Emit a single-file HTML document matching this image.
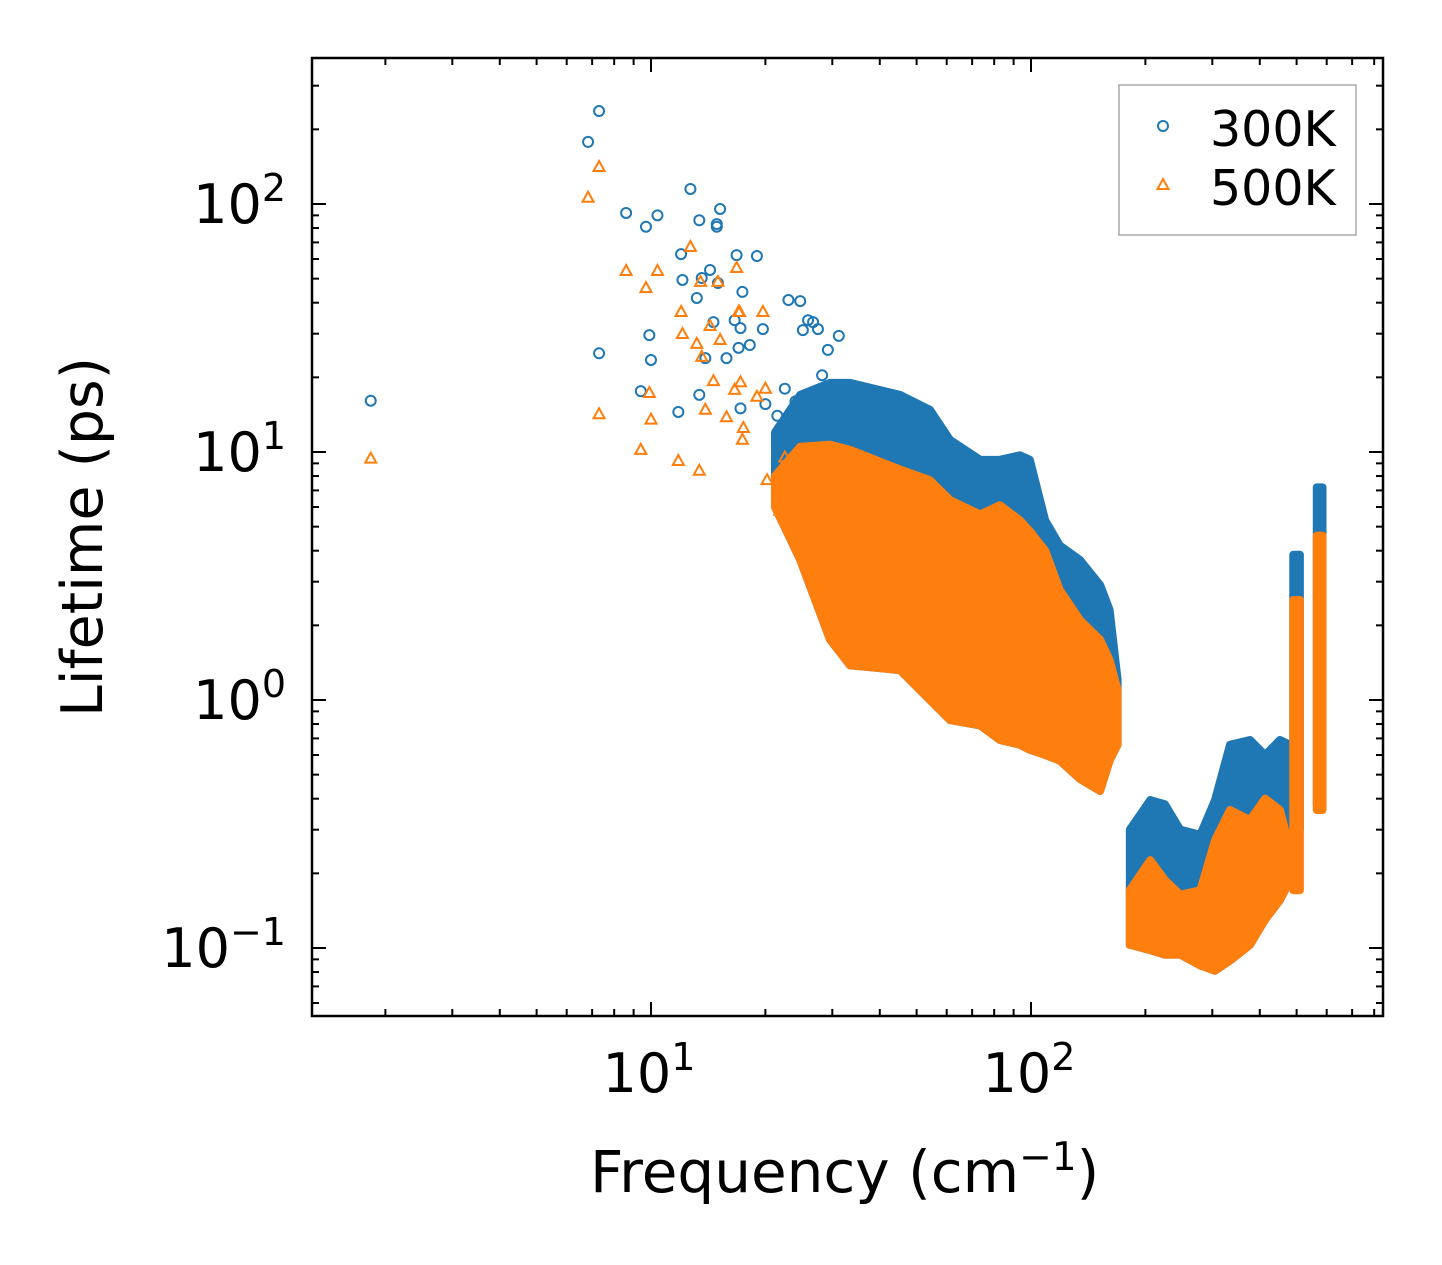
<!DOCTYPE html>
<html><head><meta charset="utf-8">
<style>
html,body{margin:0;padding:0;background:#fff;}
svg{display:block;font-family:"DejaVu Sans","Liberation Sans",sans-serif;}
</style></head>
<body>
<svg id="chart" width="1442" height="1265" viewBox="0 0 1442 1265" xmlns="http://www.w3.org/2000/svg">
<rect x="0" y="0" width="1442" height="1265" fill="#fff"/>
<g id="marks"></g>
<g id="axes"></g>
</svg>
<script>
// ---------- data ----------
const xTickVals = [10, 100];
const xTickLabels = ["10", "10"];
const xTickExps = ["1", "2"];
const yTickVals = [100, 10, 1, 0.1];
const yTickExps = ["2", "1", "0", "\u22121"];

// sparse points (frequency cm^-1, lifetime ps)
const blueFreq = [1.83,6.83,7.3,7.3,8.6,9.7,9.9,10.0,10.4,9.4,12.0,12.1,12.7,13.2,13.4,13.6,14.9,14.9,13.9,14.3,14.6,15.0,15.2,16.8,17.2,16.6,17.0,18.2,19.0,19.7,20.0,11.8,13.4,15.8,17.2,17.4,23.0,24.7,25.1,25.9,26.7,27.5,31.2,28.2,29.2,22.5,24,21.5];
const blueLife = [16.1,178,237,25,92,81,29.6,23.5,90,17.6,62.8,49.4,115,41.8,86,50.3,83,81,23.9,54.2,33.4,48,95.5,62.2,31.6,34,26.3,27,61.7,31.3,15.6,14.5,17,23.9,15,44.2,41,40.6,31,34,33.4,31.3,29.4,20.4,25.8,18,16,14];
const orangeFreq = [1.83,6.83,7.3,7.3,8.6,9.7,9.9,10.0,10.4,9.4,12.0,12.1,12.7,13.2,13.5,13.6,15.0,13.9,14.3,14.6,15.2,16.8,17.1,16.6,11.8,13.4,15.8,17.2,17.4,17.0,20.0,19.0,19.7,17.5,20.2,21.8,23.2,22.5,24.5];
const orangeLife = [9.4,106,141,14.2,53.7,45.8,17.3,13.5,53.7,10.2,36.7,29.9,67.1,27.3,48.5,24.2,48.5,14.8,32.2,19.3,28.3,55.2,36.7,17.8,9.2,8.4,13.8,19.1,11.2,36.7,18,16.7,36.7,12.5,7.7,5.8,6.4,9.5,8];

// dense cluster 1 envelopes
const band1Freq = [21.2,24.7,29.6,33.4,45.2,54.2,61.2,73.5,82.8,93.5,99.3,109,119,134.6,152,161,169];
const blue1Hi   = [12,17,19,19,17,14.8,11.2,9.3,9.3,9.7,9.3,5.3,4.2,3.67,2.91,2.31,1.21];
const orange1Hi = [8,10.5,10.7,10.2,8.5,7.7,6.4,5.6,6.1,5.3,4.8,4.0,2.78,2.1,1.75,1.45,1.1];
const orange1Lo = [6,3.67,1.75,1.38,1.32,1.0,0.83,0.79,0.69,0.66,0.63,0.60,0.57,0.48,0.43,0.57,0.66];
// dense cluster 2 envelopes
const band2Freq = [182,206,225,247,279,305,334,377,413,452,481];
const blue2Hi   = [0.30,0.395,0.38,0.30,0.286,0.395,0.66,0.69,0.60,0.69,0.66];
const orange2Hi = [0.171,0.226,0.188,0.164,0.171,0.272,0.36,0.328,0.40,0.36,0.248];
const orange2Lo = [0.103,0.098,0.094,0.094,0.085,0.081,0.089,0.103,0.13,0.156,0.188];
// spikes
const spikeFreqLo = [490, 565];
const spikeFreqHi = [510, 585];
const spikeBlueHi = [3.85, 7.2];
const spikeBlueLo = [0.30, 0.38];
const spikeOrangeHi = [2.53, 4.6];
const spikeOrangeLo = [0.171, 0.36];

// ---------- scales ----------
const L=312,R=1383,T=58,B=1016;
function xs(f){return 651+380*(Math.log10(f)-1);}
function ys(v){return 452-248*(Math.log10(v)-1);}
const NS="http://www.w3.org/2000/svg";
function mk(tag,attrs,parent){const e=document.createElementNS(NS,tag);for(const k in attrs)e.setAttribute(k,attrs[k]);parent.appendChild(e);return e;}
const marks=document.getElementById('marks');
const axes=document.getElementById('axes');
const BLUE="#1f77b4",OR="#ff7f0e";

function band(freq,hi,lo,color,name){
  let pts=[];
  for(let i=0;i<freq.length;i++)pts.push(xs(freq[i])+","+ys(hi[i]));
  for(let i=freq.length-1;i>=0;i--)pts.push(xs(freq[i])+","+ys(lo[i]));
  const p=mk('polygon',{points:pts.join(" "),fill:color,stroke:color,'stroke-width':8,'stroke-linejoin':'round'},marks);
  
  
}
function circle(f,v){
  const c=mk('circle',{cx:xs(f),cy:ys(v),r:5,fill:'none',stroke:BLUE,'stroke-width':2},marks);
  
  
}
function tri(f,v){
  const x=xs(f),y=ys(v);
  const t=mk('polygon',{points:`${x},${y-6} ${x-5.5},${y+4} ${x+5.5},${y+4}`,fill:'none',stroke:OR,'stroke-width':2},marks);
  
  
}

band(band1Freq,blue1Hi,orange1Lo,BLUE,'cluster1-300k');
band(band2Freq,blue2Hi,orange2Lo,BLUE,'cluster2-300k');
for(let i=0;i<spikeFreqLo.length;i++){
  band([spikeFreqLo[i],spikeFreqHi[i]],[spikeBlueHi[i],spikeBlueHi[i]],[spikeBlueLo[i],spikeBlueLo[i]],BLUE,'spike-300k');
}
for(let i=0;i<blueFreq.length;i++)circle(blueFreq[i],blueLife[i]);
band(band1Freq,orange1Hi,orange1Lo,OR,'cluster1-500k');
band(band2Freq,orange2Hi,orange2Lo,OR,'cluster2-500k');
for(let i=0;i<spikeFreqLo.length;i++){
  band([spikeFreqLo[i],spikeFreqHi[i]],[spikeOrangeHi[i],spikeOrangeHi[i]],[spikeOrangeLo[i],spikeOrangeLo[i]],OR,'spike-500k');
}
for(let i=0;i<orangeFreq.length;i++)tri(orangeFreq[i],orangeLife[i]);

// ---------- axes ----------
const frame=mk('rect',{x:L,y:T,width:R-L,height:B-T,fill:'none',stroke:'#000','stroke-width':2.5},axes);


function tick(x1,y1,x2,y2){mk('line',{x1,y1,x2,y2,stroke:'#000','stroke-width':2},axes);}
for(let d=0;d<=2;d++){for(let m=1;m<=9;m++){
  const f=m*Math.pow(10,d);const x=xs(f);if(x<L||x>R)continue;
  const len=m===1?14:7;tick(x,B,x,B-len);tick(x,T,x,T+len);
}}
for(let d=-2;d<=2;d++){for(let m=1;m<=9;m++){
  const v=m*Math.pow(10,d);const y=ys(v);if(y<T||y>B)continue;
  const len=m===1?14:7;tick(L,y,L+len,y);tick(R,y,R-len,y);
}}
for(let i=0;i<xTickVals.length;i++){
  const t=mk('text',{x:xs(xTickVals[i])-2,y:1092,'font-size':54,'text-anchor':'middle'},axes);
  
  
  t.textContent=xTickLabels[i];
  const s=mk('tspan',{dy:-22,'font-size':38},t);s.textContent=xTickExps[i];
}
for(let i=0;i<yTickVals.length;i++){
  const y=ys(yTickVals[i]);
  const t=mk('text',{x:286,y:y+19,'font-size':54,'text-anchor':'end'},axes);
  
  
  t.appendChild(document.createTextNode("10"));
  const s=mk('tspan',{dy:-22,'font-size':38},t);s.textContent=yTickExps[i];
}
</script>
<svg style="position:absolute;left:0;top:0" width="1442" height="1265" xmlns="http://www.w3.org/2000/svg" font-family="DejaVu Sans, Liberation Sans, sans-serif">
<text x="590" y="1192" font-size="58">Frequency (cm<tspan dy="-22" font-size="39">−1</tspan><tspan dy="22">)</tspan></text>
<text transform="translate(102,537) rotate(-90)" font-size="57" text-anchor="middle">Lifetime (ps)</text>
<g>
<rect x="1119" y="85" width="237" height="150" fill="#fff" fill-opacity="0.8" stroke="#aaa" stroke-width="1.5"/>
<circle cx="1163" cy="126" r="5" fill="none" stroke="#1f77b4" stroke-width="2"/>
<text x="1210" y="146" font-size="49">300K</text>
<polygon points="1163,179 1157.5,189 1168.5,189" fill="none" stroke="#ff7f0e" stroke-width="2"/>
<text x="1210" y="205" font-size="49">500K</text>
</g>
</svg>
</body></html>
